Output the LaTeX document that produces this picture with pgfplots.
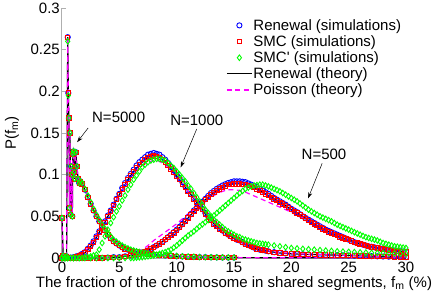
\documentclass[border=0pt]{standalone}
\usepackage{fontspec}
\setmainfont{Liberation Sans}
\usepackage{pgfplots}
\pgfplotsset{compat=1.18}
\usepackage{pgfplotstable}
\usetikzlibrary{arrows.meta}
\definecolor{axgray}{RGB}{175,175,175}
\definecolor{pgreen}{RGB}{0,255,0}
\definecolor{pmag}{RGB}{255,0,255}
\pgfplotsset{legend image code/.code={\draw[mark repeat=2,mark phase=2,#1] plot coordinates {(0pt,0pt) (12.5pt,0pt) (25pt,0pt)};}}

% N=5000: x, renewal theory (r), SMC' sims (g), Poisson (p)
\pgfplotstableread{
x r g p
0 0.048 0.048 0.048
0.1 0.003 0.003 0.003
0.2 0.000 0.000 0.000
0.3 0.000 0.000 0.000
0.4 0.002 0.002 0.002
0.5 0.265 0.260 0.265
0.55 0.198 0.195 0.198
0.6 0.168 0.168 0.168
0.65 0.060 0.060 0.060
0.7 0.150 0.150 0.150
0.75 0.052 0.052 0.052
0.8 0.110 0.110 0.110
0.85 0.100 0.100 0.100
0.9 0.050 0.050 0.050
0.95 0.125 0.125 0.125
1.0 0.128 0.128 0.128
1.05 0.103 0.103 0.103
1.1 0.095 0.095 0.095
1.2 0.127 0.127 0.127
1.3 0.110 0.110 0.110
1.4 0.095 0.095 0.095
1.5 0.090 0.090 0.090
1.6 0.092 0.092 0.092
1.75 0.089 0.090 0.089
2.0 0.082 0.083 0.082
2.25 0.073 0.075 0.073
2.5 0.065 0.067 0.065
2.75 0.057 0.059 0.057
3.0 0.050 0.052 0.050
3.25 0.044 0.046 0.044
3.5 0.038 0.040 0.038
3.75 0.033 0.035 0.033
4.0 0.028 0.030 0.028
4.25 0.024 0.026 0.024
4.5 0.020 0.022 0.020
4.75 0.0175 0.0195 0.0175
5.0 0.015 0.017 0.015
5.25 0.013 0.015 0.013
5.5 0.011 0.013 0.011
5.75 0.010 0.0115 0.010
6.0 0.009 0.010 0.009
6.25 0.008 0.009 0.008
6.5 0.0075 0.008 0.0075
6.75 0.0068 0.0073 0.0068
7.0 0.006 0.0065 0.006
7.25 0.0055 0.006 0.0055
7.5 0.005 0.0055 0.005
8.0 0.004 0.0045 0.004
8.5 0.0035 0.004 0.0035
9.0 0.003 0.0035 0.003
9.5 0.0025 0.003 0.0025
10.0 0.002 0.0025 0.002
10.5 0.0018 0.002 0.0018
11.0 0.0015 0.0017 0.0015
11.5 0.0013 0.0015 0.0013
12.0 0.001 0.0012 0.001
12.5 0.001 0.001 0.001
13.0 0.0008 0.0009 0.0008
13.5 0.0007 0.0008 0.0007
14.0 0.0006 0.0007 0.0006
14.5 0.0005 0.0006 0.0005
15.0 0.0005 0.0005 0.0005
20 0.0003 nan 0.0003
25 0.0002 nan 0.0002
30 0.0001 nan 0.0001
}\tfivek

% N=1000: x, renewal theory (r), renewal sims (b), Poisson (p), SMC' sims (g)
\pgfplotstableread{
x r b p g
0 0 0 0 0
0.25 0 0 0 0
0.5 0 0 0 0
0.75 0.0005 0.0005 0.0005 0
1 0.001 0.001 0.001 0
1.25 0.002 0.002 0.002 0
1.5 0.003 0.003 0.004 0
1.75 0.004 0.005 0.006 0
2 0.006 0.007 0.008 0.001
2.25 0.010 0.011 0.012 0.001
2.5 0.014 0.015 0.016 0.002
2.75 0.019 0.020 0.021 0.003
3 0.025 0.026 0.027 0.004
3.25 0.031 0.032 0.033 0.010
3.5 0.037 0.038 0.039 0.018
3.75 0.043 0.044 0.045 0.026
4 0.050 0.051 0.052 0.034
4.25 0.056 0.057 0.058 0.042
4.5 0.063 0.064 0.064 0.049
4.75 0.070 0.071 0.070 0.056
5 0.076 0.077 0.076 0.062
5.25 0.082 0.084 0.082 0.069
5.5 0.088 0.090 0.087 0.075
5.75 0.094 0.096 0.092 0.082
6 0.099 0.101 0.097 0.088
6.25 0.104 0.106 0.101 0.094
6.5 0.108 0.111 0.105 0.099
6.75 0.112 0.115 0.108 0.104
7 0.115 0.118 0.111 0.109
7.25 0.118 0.121 0.113 0.112
7.5 0.121 0.124 0.115 0.115
7.75 0.122 0.125 0.116 0.117
8 0.123 0.126 0.117 0.118
8.25 0.122 0.125 0.117 0.119
8.5 0.121 0.124 0.116 0.119
8.75 0.118 0.121 0.114 0.118
9 0.115 0.118 0.112 0.117
9.25 0.111 0.114 0.109 0.114
9.5 0.107 0.109 0.105 0.111
9.75 0.103 0.105 0.101 0.108
10 0.098 0.100 0.097 0.104
10.25 0.094 0.096 0.093 0.100
10.5 0.089 0.091 0.089 0.096
10.75 0.085 0.086 0.085 0.092
11 0.080 0.081 0.080 0.087
11.25 0.076 0.077 0.076 0.083
11.5 0.071 0.072 0.072 0.078
11.75 0.067 0.068 0.068 0.073
12 0.062 0.063 0.063 0.068
12.25 0.058 0.059 0.059 0.063
12.5 0.053 0.054 0.055 0.058
12.75 0.049 0.050 0.051 0.054
13 0.045 0.046 0.047 0.050
13.25 0.041 0.042 0.043 0.046
13.5 0.038 0.039 0.040 0.043
13.75 0.035 0.036 0.037 0.040
14 0.033 0.033 0.034 0.037
14.25 0.030 0.030 0.031 0.034
14.5 0.028 0.028 0.029 0.032
14.75 0.026 0.026 0.026 0.030
15 0.024 0.024 0.024 0.028
15.25 0.022 0.022 0.022 0.026
15.5 0.021 0.021 0.020 0.025
15.75 0.019 0.019 0.018 0.023
16 0.017 0.017 0.017 0.022
16.25 0.0155 0.0155 0.0155 0.021
16.5 0.014 0.014 0.014 0.020
16.75 0.0125 0.0125 0.013 0.019
17 0.011 0.011 0.012 0.018
17.25 0.010 0.010 0.011 0.0175
17.5 0.0095 0.0095 0.010 0.017
17.75 0.0088 0.0088 0.0093 0.0165
18 0.008 0.008 0.0085 0.016
18.5 0.007 0.007 0.0075 0.015
19 0.006 0.006 0.0065 0.014
19.5 0.0055 0.0055 0.006 0.013
20 0.005 0.005 0.0055 0.012
20.5 0.0047 0.0047 0.005 0.0115
21 0.0045 0.0045 0.0047 0.011
21.5 0.0043 0.0043 0.0045 0.0105
22 0.0041 0.0041 0.0043 0.010
22.5 0.0039 0.0039 0.0041 0.0095
23 0.0037 0.0037 0.0039 0.009
23.5 0.0036 0.0036 0.0037 0.0085
24 0.0034 0.0034 0.0035 0.008
24.5 0.0032 0.0032 0.0033 0.0077
25 0.003 0.003 0.0031 0.0074
25.5 0.0028 0.0028 0.0029 0.0071
26 0.0026 0.0026 0.0027 0.0068
26.5 0.0024 0.0024 0.0025 0.0065
27 0.0022 0.0022 0.0023 0.0062
27.5 0.002 0.002 0.0021 0.006
28 0.0018 0.0018 0.0019 0.0058
28.5 0.0016 0.0016 0.0017 0.0056
29 0.0014 0.0014 0.0015 0.0054
29.5 0.0012 0.0012 0.0013 0.0052
30 0.001 0.001 0.0011 0.005
}\tthous

% N=500
\pgfplotstableread{
x r b p g
0 0 0 0 0
0.5 0 0 0 0
1 0 0 0 0
1.5 0 0 0 0
2 0 0 0 0
2.5 0 0 0 0
3 0 0 0 0
3.5 0 0 0.001 0
4 0.0005 0.0005 0.001 0
4.5 0.001 0.001 0.002 0
5 0.001 0.001 0.003 0
5.5 0.002 0.002 0.004 0
6 0.003 0.003 0.005 0
6.25 0.0035 0.0035 0.006 0
6.5 0.004 0.004 0.007 0.0005
6.75 0.005 0.005 0.0085 0.0008
7 0.006 0.006 0.010 0.001
7.25 0.0075 0.0075 0.0125 0.0015
7.5 0.009 0.009 0.015 0.002
7.75 0.011 0.011 0.018 0.0025
8 0.013 0.013 0.021 0.003
8.25 0.015 0.015 0.0235 0.004
8.5 0.017 0.017 0.026 0.005
8.75 0.0195 0.0195 0.0285 0.006
9 0.022 0.022 0.031 0.007
9.25 0.0245 0.025 0.0335 0.0085
9.5 0.027 0.028 0.036 0.010
9.75 0.030 0.031 0.0385 0.0125
10 0.033 0.034 0.041 0.015
10.25 0.0365 0.0375 0.044 0.018
10.5 0.040 0.041 0.047 0.021
10.75 0.044 0.045 0.050 0.024
11 0.048 0.049 0.053 0.027
11.25 0.052 0.053 0.0555 0.0295
11.5 0.056 0.057 0.058 0.032
11.75 0.0595 0.0605 0.0605 0.035
12 0.063 0.064 0.063 0.038
12.25 0.0665 0.0675 0.0655 0.0405
12.5 0.070 0.071 0.068 0.043
12.75 0.073 0.0745 0.0705 0.0455
13 0.076 0.078 0.073 0.048
13.25 0.0785 0.0805 0.075 0.051
13.5 0.081 0.083 0.077 0.054
13.75 0.083 0.085 0.0785 0.057
14 0.085 0.087 0.080 0.060
14.25 0.0865 0.0885 0.081 0.063
14.5 0.088 0.090 0.082 0.066
14.75 0.0885 0.091 0.082 0.069
15 0.089 0.092 0.082 0.072
15.25 0.089 0.092 0.0815 0.075
15.5 0.089 0.092 0.081 0.078
15.75 0.0885 0.0915 0.080 0.0805
16 0.088 0.091 0.079 0.083
16.25 0.087 0.0895 0.0775 0.0845
16.5 0.086 0.088 0.076 0.086
16.75 0.0845 0.0865 0.0745 0.087
17 0.083 0.085 0.073 0.0875
17.25 0.081 0.083 0.0715 0.088
17.5 0.079 0.081 0.070 0.088
17.75 0.077 0.079 0.0685 0.087
18 0.075 0.077 0.067 0.086
18.25 0.073 0.0745 0.0655 0.0845
18.5 0.071 0.072 0.064 0.083
18.75 0.069 0.070 0.0625 0.0815
19 0.067 0.068 0.061 0.080
19.25 0.065 0.066 0.0595 0.078
19.5 0.063 0.064 0.058 0.076
19.75 0.0605 0.0615 0.0565 0.074
20 0.058 0.059 0.055 0.072
20.25 0.056 0.057 0.053 0.070
20.5 0.054 0.055 0.051 0.068
20.75 0.052 0.0525 0.0495 0.0655
21 0.050 0.050 0.048 0.063
21.25 0.0475 0.048 0.046 0.0605
21.5 0.045 0.046 0.044 0.058
21.75 0.043 0.044 0.042 0.056
22 0.041 0.042 0.040 0.054
22.25 0.039 0.040 0.038 0.052
22.5 0.037 0.038 0.036 0.050
22.75 0.035 0.036 0.0345 0.0485
23 0.033 0.034 0.033 0.047
23.25 0.0315 0.0325 0.0315 0.0455
23.5 0.030 0.031 0.030 0.044
23.75 0.0285 0.0295 0.0285 0.042
24 0.027 0.028 0.027 0.040
24.25 0.0255 0.0265 0.0255 0.0385
24.5 0.024 0.025 0.024 0.037
24.75 0.023 0.0235 0.023 0.0355
25 0.022 0.022 0.022 0.034
25.25 0.0205 0.0205 0.0205 0.0325
25.5 0.019 0.019 0.019 0.031
25.75 0.018 0.018 0.018 0.0295
26 0.017 0.017 0.017 0.028
26.25 0.016 0.016 0.016 0.0265
26.5 0.015 0.015 0.015 0.025
26.75 0.014 0.014 0.014 0.024
27 0.0135 0.0135 0.0135 0.023
27.25 0.0128 0.0128 0.0128 0.022
27.5 0.012 0.012 0.012 0.021
27.75 0.0115 0.0115 0.0115 0.0195
28 0.011 0.011 0.011 0.018
28.25 0.0104 0.0104 0.0105 0.017
28.5 0.0098 0.0098 0.010 0.016
28.75 0.0094 0.0094 0.0095 0.015
29 0.009 0.009 0.009 0.014
29.25 0.0085 0.0085 0.0088 0.0135
29.5 0.008 0.008 0.0085 0.013
29.75 0.0078 0.0078 0.0082 0.0125
30 0.0075 0.0075 0.008 0.012
}\tfiveh

\begin{document}
\begin{tikzpicture}[font=\fontsize{15}{18}\selectfont]
\begin{axis}[
  at={(0,0)}, anchor=south west,
  scale only axis, width=344pt, height=250pt,
  xmin=0, xmax=30, ymin=0, ymax=0.3,
  clip=false,
  axis x line*=bottom, axis y line*=left,
  axis line style={axgray, line width=1pt, -},
  every tick/.style={axgray, line width=0.8pt},
  major tick length=4pt,
  tick align=inside,
  xtick={0,5,10,15,20,25,30},
  ytick={0,0.05,0.1,0.15,0.2,0.25,0.3},
  scaled y ticks=false,
  /pgf/number format/assume math mode=true,
  yticklabel style={/pgf/number format/fixed, /pgf/number format/precision=2, anchor=east, inner sep=0pt, xshift=-2pt},
  xticklabel style={anchor=base, yshift=-14pt},
  tick label style={font=\fontsize{15}{18}\selectfont},
  xlabel={The fraction of the chromosome in shared segments, f\textsubscript{m} (\%)},
  ylabel={P(f\textsubscript{m})},
  every axis x label/.style={at={(axis description cs:0.5,0)}, anchor=base, yshift=-29pt, font=\fontsize{15}{18}\selectfont},
  every axis y label/.style={at={(axis description cs:-0.145,0.5)}, anchor=center, rotate=90, font=\fontsize{15}{18}\selectfont},
  legend style={at={(axis description cs:0.477,0.96)}, anchor=north west, draw=none, fill=none, inner sep=0pt, row sep=1.8pt, nodes={inner sep=1pt, font=\fontsize{15}{18}\selectfont}},
  legend cell align=left,
]
% Renewal simulations (blue circles)
\addplot[only marks, mark=o, color=blue, mark size=2.6pt, mark options={line width=0.9pt}, restrict x to domain=0:15] table[x=x,y=r]{\tfivek};
\addlegendentry{Renewal (simulations)}
\addplot[only marks, mark=o, color=blue, mark size=2.6pt, mark options={line width=0.9pt}, forget plot] table[x=x,y=b]{\tthous};
\addplot[only marks, mark=o, color=blue, mark size=2.6pt, mark options={line width=0.9pt}, forget plot] table[x=x,y=b]{\tfiveh};
% SMC simulations (red squares)
\addplot[only marks, mark=square, color=red, mark size=2.2pt, mark options={line width=0.9pt}, restrict x to domain=0:15] table[x=x,y=r]{\tfivek};
\addlegendentry{SMC (simulations)}
\addplot[only marks, mark=square, color=red, mark size=2.2pt, mark options={line width=0.9pt}, forget plot] table[x=x,y=r]{\tthous};
\addplot[only marks, mark=square, color=red, mark size=2.2pt, mark options={line width=0.9pt}, forget plot] table[x=x,y=r]{\tfiveh};
% SMC' simulations (green diamonds)
\addplot[only marks, mark=diamond, color=pgreen, mark size=2.8pt, mark options={line width=0.9pt}] table[x=x,y=g]{\tfivek};
\addlegendentry{SMC\textquotesingle{} (simulations)}
\addplot[only marks, mark=diamond, color=pgreen, mark size=2.8pt, mark options={line width=0.9pt}, forget plot] table[x=x,y=g]{\tthous};
\addplot[only marks, mark=diamond, color=pgreen, mark size=2.8pt, mark options={line width=0.9pt}, forget plot] table[x=x,y=g]{\tfiveh};
% Renewal theory
\addplot[black, line width=1.2pt, no marks] table[x=x,y=r]{\tfivek};
\addlegendentry{Renewal (theory)}
\addplot[black, line width=1.2pt, no marks, forget plot] table[x=x,y=r]{\tthous};
\addplot[black, line width=1.2pt, no marks, forget plot] table[x=x,y=r]{\tfiveh};
% Poisson theory
\addplot[pmag, line width=1.2pt, dash pattern=on 5pt off 3.5pt, no marks] table[x=x,y=p]{\tfivek};
\addlegendentry{Poisson (theory)}
\addplot[pmag, line width=1.2pt, dash pattern=on 5pt off 3.5pt, no marks, forget plot] table[x=x,y=p]{\tthous};
\addplot[pmag, line width=1.2pt, dash pattern=on 5pt off 3.5pt, no marks, forget plot] table[x=x,y=p]{\tfiveh};

\node at (axis cs:4.94,0.1686) {N=5000};
\draw[-{Stealth[length=6pt,width=4pt]}, line width=0.5pt] (axis cs:2.28,0.156) -- (axis cs:1.32,0.139);
\node at (axis cs:11.75,0.1656) {N=1000};
\draw[-{Stealth[length=6pt,width=4pt]}, line width=0.5pt] (axis cs:11.75,0.1548) -- (axis cs:10.35,0.1088);
\node at (axis cs:22.85,0.1248) {N=500};
\draw[-{Stealth[length=6pt,width=4pt]}, line width=0.5pt] (axis cs:22.69,0.1136) -- (axis cs:21.46,0.0716);
\end{axis}
\pgfresetboundingbox
\useasboundingbox (-62pt,-42pt) rectangle (374pt,258pt);
\end{tikzpicture}
\end{document}
